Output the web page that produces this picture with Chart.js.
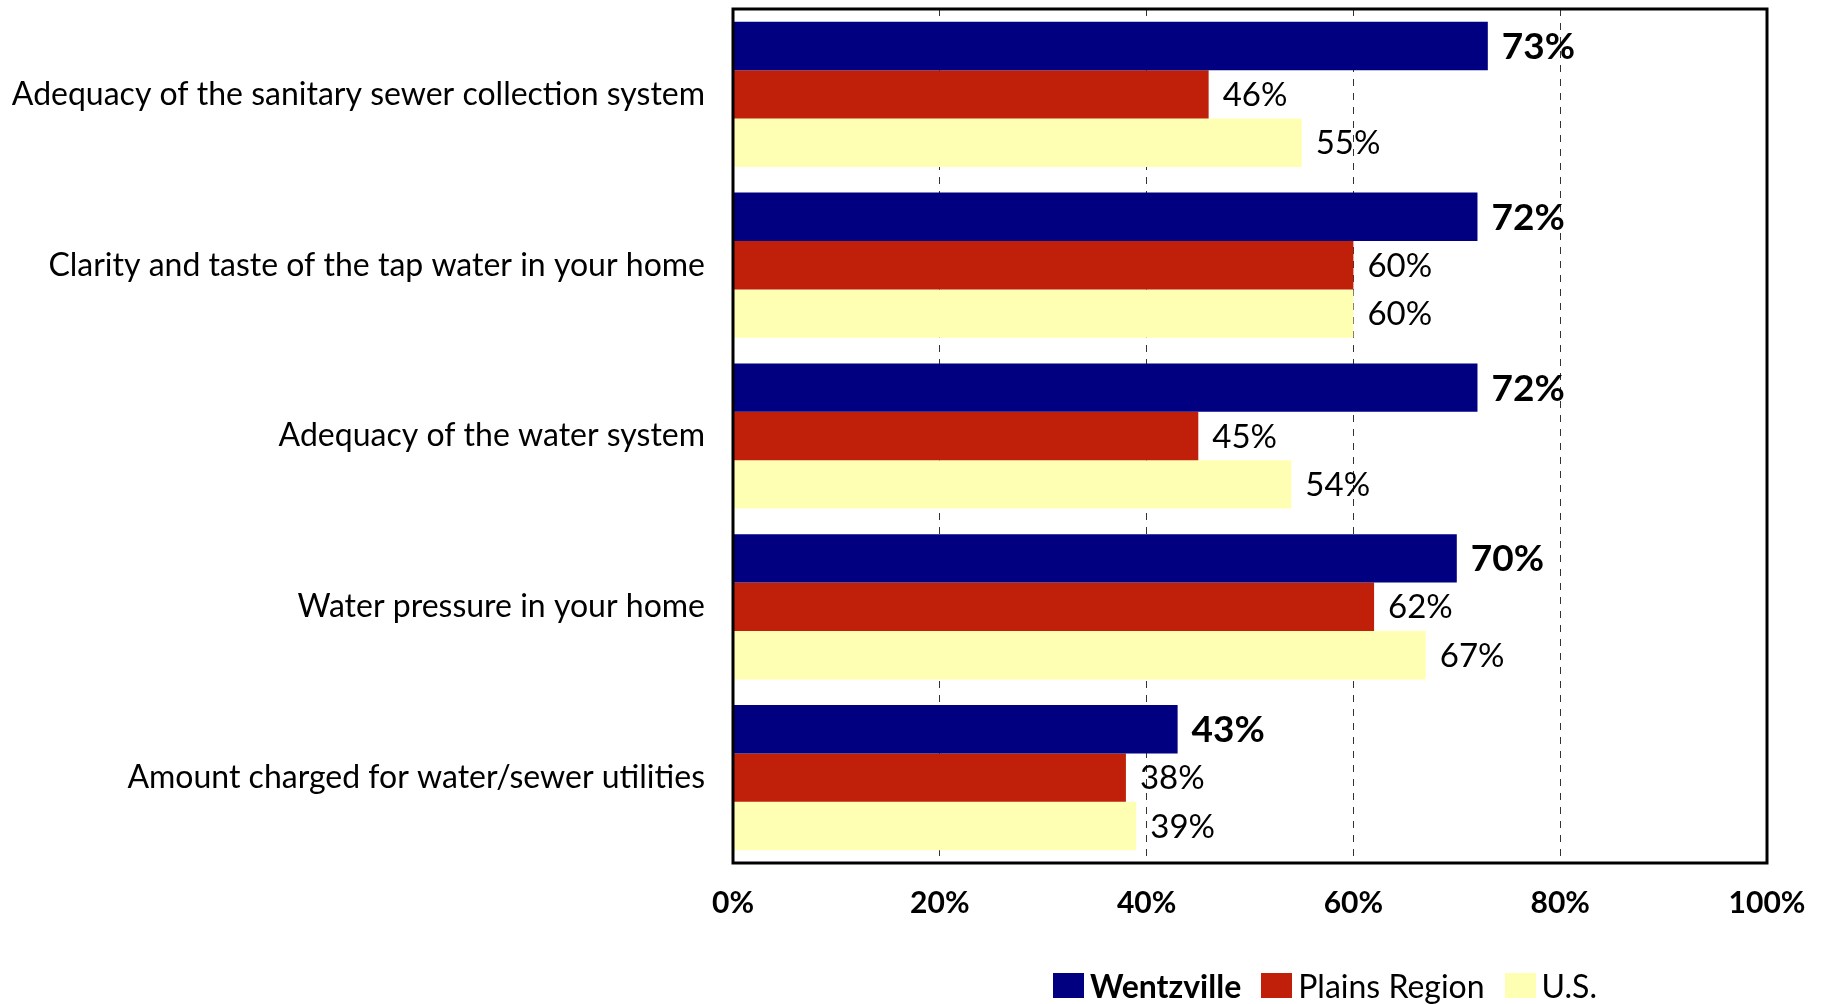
<!DOCTYPE html>
<html>
<head>
<meta charset="utf-8">
<script src="https://cdn.jsdelivr.net/npm/chart.js@4.4.1/dist/chart.umd.min.js"></script>
<style>
  html, body { margin: 0; padding: 0; background: #fff; overflow: hidden; }
  #wrap { position: relative; width: 1824px; height: 1004px; }
  #legend { position: absolute; left: 1053px; top: 966px; display: flex; align-items: center;
            font-family: Lato, sans-serif; font-size: 32px; color: #000; white-space: nowrap; }
  #legend span.box { display: inline-block; width: 31px; height: 25px; margin-right: 6px; }
  #legend span.item { display: inline-flex; align-items: center; margin-right: 20px; }
</style>
</head>
<body>
<div id="wrap">
  <canvas id="barChart" width="1824" height="1004"></canvas>
  <div id="legend"></div>
</div>
<script>
const categories = [
   'Adequacy of the sanitary sewer collection system',
   'Clarity and taste of the tap water in your home',
   'Adequacy of the water system',
   'Water pressure in your home',
   'Amount charged for water/sewer utilities'
];
const seriesNames = ['Wentzville', 'Plains Region', 'U.S.'];
const wentzville = [73, 72, 72, 70, 43];
const plainsRegion = [46, 60, 45, 62, 38];
const usValues = [55, 60, 54, 67, 39];
const xTicks = [0, 20, 40, 60, 80, 100];

const colors = ['#000080', '#C0200A', '#FFFFB3'];
const fontFamily = 'Lato, sans-serif';

const barDatasets = [wentzville, plainsRegion, usValues].map((vals, i) => ({
   label: seriesNames[i],
   data: vals,
   backgroundColor: colors[i],
   borderWidth: 0,
   barPercentage: 1.0,
   categoryPercentage: 0.85
}));

// value labels at bar ends + frame around plot area
const valueLabels = {
   id: 'valueLabels',
   afterDatasetsDraw(chart) {
      const ctx = chart.ctx;
      ctx.save();
      ctx.textBaseline = 'middle';
      ctx.textAlign = 'left';
      chart.data.datasets.forEach((ds, di) => {
         const meta = chart.getDatasetMeta(di);
         ctx.font = di === 0 ? 'bold 37px ' + fontFamily : '33px ' + fontFamily;
         ctx.fillStyle = '#000';
         meta.data.forEach((bar, idx) => {
            ctx.fillText(ds.data[idx] + '%', bar.x + 14, bar.y + 1);
         });
      });
      const a = chart.chartArea;
      ctx.strokeStyle = '#000';
      ctx.lineWidth = 3;
      ctx.strokeRect(a.left, a.top, a.right - a.left, a.bottom - a.top);
      ctx.restore();
   }
};

const configBar = {
   type: 'bar',
   data: { labels: categories, datasets: barDatasets },
   options: {
      indexAxis: 'y',
      responsive: false,
      animation: false,
      layout: { padding: { top: 9, right: 57, left: 0, bottom: 0 } },
      plugins: {
         legend: { display: false },
         tooltip: { enabled: false }
      },
      scales: {
         x: {
            min: 0,
            max: 100,
            afterBuildTicks(scale) { scale.ticks = xTicks.map(v => ({ value: v })); },
            afterFit(scale) { scale.height = 141; scale.paddingLeft = 0; scale.paddingRight = 0; },
            border: { display: false, dash: [7, 7] },
            grid: {
               color: ctx => (ctx.tick && (ctx.tick.value === 0 || ctx.tick.value === 100)) ? 'rgba(0,0,0,0)' : '#333',
               lineWidth: 1,
               drawTicks: false
            },
            ticks: {
               padding: 22,
               color: '#000',
               font: { family: fontFamily, size: 30, weight: 'bold' },
               callback: v => v + '%'
            }
         },
         y: {
            afterFit(scale) { scale.width = 733; scale.paddingTop = 0; scale.paddingBottom = 0; },
            border: { display: false },
            grid: { display: false, drawTicks: false },
            ticks: {
               padding: 28,
               color: '#000',
               font: { family: fontFamily, size: 32 }
            }
         }
      }
   },
   plugins: [valueLabels]
};

const barChart = new Chart(document.getElementById('barChart'), configBar);

const legendEl = document.getElementById('legend');
seriesNames.forEach((name, i) => {
   const item = document.createElement('span');
   item.className = 'item';
   const box = document.createElement('span');
   box.className = 'box';
   box.style.background = colors[i];
   const txt = document.createElement('span');
   txt.textContent = name;
   if (i === 0) txt.style.fontWeight = 'bold';
   item.appendChild(box);
   item.appendChild(txt);
   legendEl.appendChild(item);
});
</script>
</body>
</html>
